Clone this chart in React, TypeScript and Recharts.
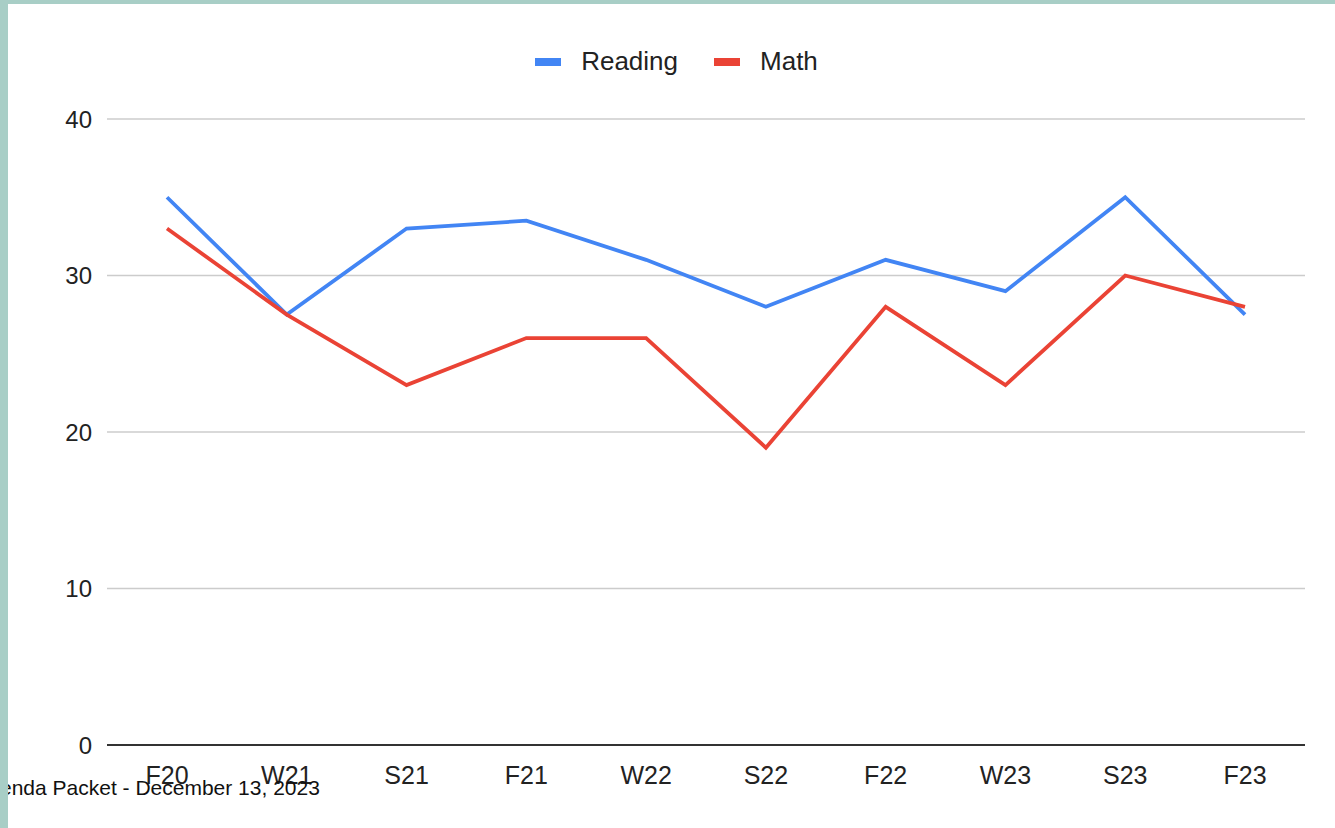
import { LineChart, Line, XAxis, YAxis, CartesianGrid, Legend } from "recharts";

const terms = ["F20", "W21", "S21", "F21", "W22", "S22", "F22", "W23", "S23", "F23"];
const reading = [35, 27.5, 33, 33.5, 31, 28, 31, 29, 35, 27.5];
const math = [33, 27.5, 23, 26, 26, 19, 28, 23, 30, 28];
const yTicks = [0, 10, 20, 30, 40];
const seriesOrder = ["Reading", "Math"];

const data = terms.map((term, i) => ({
  term,
  Reading: reading[i],
  Math: math[i],
}));

const FONT = "'Liberation Sans', Arial, sans-serif";

function LegendContent(props: any) {
  const payload = [...(props.payload || [])].sort(
    (a: any, b: any) => seriesOrder.indexOf(a.value) - seriesOrder.indexOf(b.value)
  );
  return (
    <div style={{ display: "flex", justifyContent: "center", alignItems: "center", gap: 36, paddingLeft: 48 }}>
      {payload.map((p: any) => (
        <div key={p.value} style={{ display: "flex", alignItems: "center" }}>
          <span style={{ width: 26, height: 8, background: p.color, marginRight: 20, display: "inline-block" }} />
          <span style={{ fontFamily: FONT, fontSize: 26, color: "#222" }}>{p.value}</span>
        </div>
      ))}
    </div>
  );
}

export default function App() {
  return (
    <div
      style={{
        position: "absolute",
        top: 0,
        left: 0,
        width: 1335,
        height: 828,
        background: "#fff",
        borderLeft: "8px solid #a8cec6",
        borderTop: "4px solid #a8cec6",
        boxSizing: "border-box",
        overflow: "hidden",
      }}
    >
      <div style={{ position: "absolute", left: -8, top: -4 }}>
        <LineChart
          width={1335}
          height={828}
          data={data}
          margin={{ top: 88, right: 30, left: 0, bottom: 33 }}
        >
          <CartesianGrid vertical={false} stroke="#cccccc" strokeWidth={1.5} />
          <Legend verticalAlign="top" content={LegendContent} wrapperStyle={{ top: 46 }} />
          <XAxis
            dataKey="term"
            height={50}
            padding={{ left: 60, right: 60 }}
            tickLine={false}
            tickSize={0}
            tickMargin={21}
            axisLine={{ stroke: "#333", strokeWidth: 2 }}
            tick={{ fill: "#222", fontSize: 25, fontFamily: FONT }}
          />
          <YAxis
            width={107}
            domain={[0, 40]}
            ticks={yTicks}
            axisLine={false}
            tickLine={false}
            tickSize={0}
            tickMargin={15}
            tick={{ fill: "#222", fontSize: 24, fontFamily: FONT }}
          />
          <Line
            type="linear"
            dataKey="Reading"
            stroke="#4285f4"
            strokeWidth={3.8}
            dot={false}
            isAnimationActive={false}
          />
          <Line
            type="linear"
            dataKey="Math"
            stroke="#ea4335"
            strokeWidth={3.8}
            dot={false}
            isAnimationActive={false}
          />
        </LineChart>
      </div>
      <div style={{ position: "absolute", left: -8, top: 748, width: 3, height: 30, background: "#e8a0a8" }} />
      <div
        style={{
          position: "absolute",
          left: -8,
          top: 773,
          fontFamily: FONT,
          fontSize: 21,
          lineHeight: 1,
          color: "#111",
          whiteSpace: "nowrap",
        }}
      >
        enda Packet - December 13, 2023
      </div>
    </div>
  );
}
